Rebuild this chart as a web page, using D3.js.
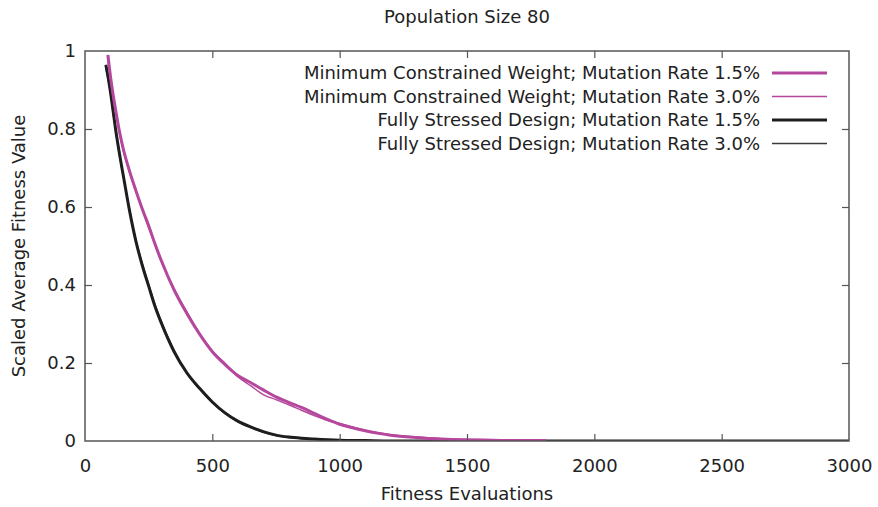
<!DOCTYPE html>
<html>
<head>
<meta charset="utf-8">
<script src="https://cdn.jsdelivr.net/npm/d3@7/dist/d3.min.js"></script>
<style>
  html, body { margin: 0; padding: 0; background: #fff; }
  svg { display: block; }
  text { font-family: "DejaVu Sans", sans-serif; fill: #222; }
</style>
</head>
<body>
<svg id="chart" width="878" height="507"></svg>
<script>
// Fitness evaluations at which each run's scaled average fitness was sampled
const evalsMCW15 = [90, 100, 110, 120, 135, 150, 175, 200, 225, 250, 275, 300, 350, 400, 450, 500, 550, 600, 650, 700, 750, 800, 850, 900, 950, 1000, 1050, 1100, 1200, 1300, 1400, 1500, 1600, 1700, 1810];
const mcw15 =      [0.99, 0.935, 0.89, 0.85, 0.795, 0.75, 0.692, 0.642, 0.595, 0.552, 0.505, 0.462, 0.387, 0.327, 0.274, 0.229, 0.196, 0.168, 0.150, 0.131, 0.113, 0.099, 0.086, 0.071, 0.056, 0.043, 0.034, 0.026, 0.015, 0.009, 0.005, 0.003, 0.002, 0.001, 0.001];

const evalsMCW30 = [88, 100, 110, 120, 135, 150, 175, 200, 225, 250, 275, 300, 350, 400, 450, 500, 550, 600, 650, 700, 750, 800, 850, 900, 950, 1000, 1050, 1100, 1200, 1300, 1400, 1500, 1600];
const mcw30 =      [0.985, 0.93, 0.885, 0.845, 0.79, 0.745, 0.688, 0.638, 0.592, 0.547, 0.502, 0.459, 0.391, 0.331, 0.276, 0.231, 0.199, 0.165, 0.142, 0.119, 0.106, 0.093, 0.079, 0.065, 0.053, 0.045, 0.036, 0.028, 0.016, 0.010, 0.006, 0.003, 0.002];

const evalsFSD15 = [82, 90, 100, 110, 120, 135, 150, 175, 200, 225, 250, 275, 300, 350, 400, 450, 500, 550, 600, 650, 700, 750, 800, 850, 900, 1000, 1100, 1200, 3000];
const fsd15 =      [0.965, 0.935, 0.895, 0.848, 0.80, 0.738, 0.682, 0.59, 0.512, 0.45, 0.397, 0.345, 0.302, 0.229, 0.175, 0.135, 0.100, 0.072, 0.051, 0.036, 0.024, 0.015, 0.010, 0.007, 0.005, 0.002, 0.001, 0.0, 0.0];

const evalsFSD30 = [80, 90, 100, 110, 120, 135, 150, 175, 200, 225, 250, 275, 300, 350, 400, 450, 500, 550, 600, 650, 700, 750, 800, 850, 900, 1000, 1100, 1200, 3000];
const fsd30 =      [0.96, 0.93, 0.89, 0.842, 0.795, 0.733, 0.678, 0.594, 0.516, 0.455, 0.402, 0.35, 0.307, 0.233, 0.172, 0.133, 0.098, 0.070, 0.049, 0.035, 0.022, 0.014, 0.009, 0.006, 0.004, 0.002, 0.001, 0.0, 0.0];

const seriesNames = [
  "Minimum Constrained Weight; Mutation Rate 1.5%",
  "Minimum Constrained Weight; Mutation Rate 3.0%",
  "Fully Stressed Design; Mutation Rate 1.5%",
  "Fully Stressed Design; Mutation Rate 3.0%"
];
const seriesColors = ["#b5479d", "#b5479d", "#1e1e1e", "#3a3a3a"];
const seriesWidths = [3, 1.5, 3, 1.3];

const xTicks = [0, 500, 1000, 1500, 2000, 2500, 3000];
const yTicks = [0, 0.2, 0.4, 0.6, 0.8, 1];

const titleText = "Population Size 80";
const xTitle = "Fitness Evaluations";
const yTitle = "Scaled Average Fitness Value";

const series = [
  { name: seriesNames[0], x: evalsMCW15, y: mcw15 },
  { name: seriesNames[1], x: evalsMCW30, y: mcw30 },
  { name: seriesNames[2], x: evalsFSD15, y: fsd15 },
  { name: seriesNames[3], x: evalsFSD30, y: fsd30 }
];

const FONT = "18px";
const svg = d3.select("#chart");
const m = { left: 85, right: 849, top: 51, bottom: 441 };

const x = d3.scaleLinear().domain([0, 3000]).range([m.left, m.right]);
const y = d3.scaleLinear().domain([0, 1]).range([m.bottom, m.top]);

// Curves, clipped to the plotting area
svg.append("defs").append("clipPath").attr("id", "plotClip")
  .append("rect")
  .attr("x", m.left).attr("y", m.top - 2)
  .attr("width", m.right - m.left).attr("height", m.bottom - m.top + 2);

const line = d3.line().x(d => x(d[0])).y(d => y(d[1])).curve(d3.curveMonotoneX);

const plot = svg.append("g").attr("clip-path", "url(#plotClip)");
// thinner runs first, thicker runs on top
[3, 2, 1, 0].forEach(i => {
  const s = series[i];
  plot.append("path")
    .datum(s.x.map((v, k) => [v, s.y[k]]))
    .attr("fill", "none")
    .attr("stroke", seriesColors[i])
    .attr("stroke-width", seriesWidths[i])
    .attr("stroke-linejoin", "round")
    .attr("d", line);
});

// Axes with inward ticks, mirrored on the opposite sides
const tickLen = 7;
const axisColor = "#555";

const gBottom = svg.append("g").attr("transform", `translate(0,${m.bottom})`)
  .call(d3.axisBottom(x).tickValues(xTicks).tickSize(-tickLen).tickPadding(18).tickFormat(d3.format("d")));
const gTop = svg.append("g").attr("transform", `translate(0,${m.top})`)
  .call(d3.axisTop(x).tickValues(xTicks).tickSize(-tickLen).tickFormat(""));
const gLeft = svg.append("g").attr("transform", `translate(${m.left},0)`)
  .call(d3.axisLeft(y).tickValues(yTicks).tickSize(-tickLen).tickPadding(9).tickFormat(d => d === 0 || d === 1 ? d3.format("d")(d) : d3.format(".1f")(d)));
const gRight = svg.append("g").attr("transform", `translate(${m.right},0)`)
  .call(d3.axisRight(y).tickValues(yTicks).tickSize(-tickLen).tickFormat(""));

[gBottom, gTop, gLeft, gRight].forEach(g => {
  g.select(".domain").remove();
  g.selectAll(".tick line").attr("stroke", axisColor).attr("stroke-width", 1.2);
  g.selectAll(".tick text").style("font-family", "'DejaVu Sans', sans-serif").style("font-size", FONT).attr("fill", "#222");
});
// ticks at the frame corners are hidden by the frame itself
[gBottom, gTop].forEach(g => g.selectAll(".tick").filter(d => d === 0 || d === 3000).select("line").remove());
[gLeft, gRight].forEach(g => g.selectAll(".tick").filter(d => d === 0 || d === 1).select("line").remove());

// Frame
svg.append("rect")
  .attr("x", m.left).attr("y", m.top)
  .attr("width", m.right - m.left).attr("height", m.bottom - m.top)
  .attr("fill", "none").attr("stroke", axisColor).attr("stroke-width", 1.5);

// Titles
svg.append("text").attr("x", 467).attr("y", 23).attr("text-anchor", "middle")
  .style("font-size", FONT).text(titleText);
svg.append("text").attr("x", 467).attr("y", 500).attr("text-anchor", "middle")
  .style("font-size", FONT).text(xTitle);
svg.append("text").attr("transform", "translate(25,246) rotate(-90)").attr("text-anchor", "middle")
  .style("font-size", FONT).text(yTitle);

// Legend
const legend = svg.append("g");
series.forEach((s, i) => {
  const ly = 73 + i * 23.5;
  legend.append("text").attr("x", 760).attr("y", ly).attr("dy", "0.35em")
    .attr("text-anchor", "end").style("font-size", FONT).text(s.name);
  legend.append("line")
    .attr("x1", 772).attr("x2", 827).attr("y1", ly).attr("y2", ly)
    .attr("stroke", seriesColors[i]).attr("stroke-width", seriesWidths[i]);
});
</script>
</body>
</html>
